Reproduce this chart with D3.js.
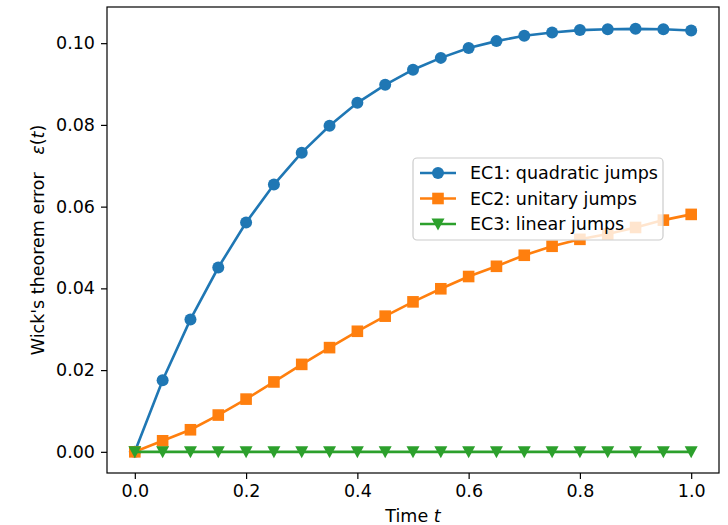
<!DOCTYPE html>
<html><head><meta charset="utf-8">
<script src="https://cdn.jsdelivr.net/npm/d3@7"></script>
<style>body{margin:0;background:#fff;} svg{display:block;}</style>
</head><body>
<script>
const times = [0,0.05,0.1,0.15,0.2,0.25,0.3,0.35,0.4,0.45,0.5,0.55,0.6,0.65,0.7,0.75,0.8,0.85,0.9,0.95,1.0];
const ec1 = [0,0.0175,0.0324,0.0451,0.0561,0.0654,0.0732,0.0798,0.0854,0.0898,0.0935,0.0964,0.0988,0.1005,0.1018,0.1026,0.1032,0.1034,0.1035,0.1034,0.1031];
const ec2 = [0,0.0027,0.0054,0.0090,0.0129,0.0171,0.0214,0.0255,0.0295,0.0332,0.0367,0.0399,0.0429,0.0454,0.0481,0.0503,0.0520,0.0533,0.0549,0.0567,0.0581];
const ec3 = [0,0,0,0,0,0,0,0,0,0,0,0,0,0,0,0,0,0,0,0,0];
const seriesNames = ["EC1: quadratic jumps","EC2: unitary jumps","EC3: linear jumps"];
const xTicks = [0,0.2,0.4,0.6,0.8,1.0];
const yTicks = [0,0.02,0.04,0.06,0.08,0.10];

const W=728,H=525;
const m={l:107,r:9,t:7,b:52};
const font="DejaVu Sans";
const fs=17.5;
const colors=["#1f77b4","#ff7f0e","#2ca02c"];
const shapes=["circle","square","triangle"];
const series=[ec1,ec2,ec3];

const svg=d3.select("body").append("svg").attr("width",W).attr("height",H);
const x=d3.scaleLinear().domain([-0.05,1.05]).range([m.l,W-m.r]);
const y=d3.scaleLinear().domain([-0.00518,0.10885]).range([H-m.b,m.t]);

function marker(g,shape,cx,cy,c){
  if(shape==="circle") g.append("circle").attr("cx",cx).attr("cy",cy).attr("r",6).attr("fill",c);
  else if(shape==="square") g.append("rect").attr("x",cx-5.8).attr("y",cy-5.8).attr("width",11.6).attr("height",11.6).attr("fill",c);
  else g.append("path").attr("d",`M${cx-6.5},${cy-5.5}L${cx+6.5},${cy-5.5}L${cx},${cy+6.5}Z`).attr("fill",c);
}

const plot=svg.append("g");
series.forEach((s,i)=>{
  const line=d3.line().x((d,j)=>x(times[j])).y(d=>y(d));
  plot.append("path").datum(s).attr("d",line).attr("fill","none").attr("stroke",colors[i]).attr("stroke-width",2.6);
  const g=plot.append("g");
  s.forEach((v,j)=>marker(g,shapes[i],x(times[j]),y(v),colors[i]));
});

// axes
const xa=svg.append("g").attr("transform",`translate(0,${H-m.b})`).call(d3.axisBottom(x).tickValues(xTicks).tickFormat(d3.format(".1f")).tickSize(6).tickPadding(6));
const ya=svg.append("g").attr("transform",`translate(${m.l},0)`).call(d3.axisLeft(y).tickValues(yTicks).tickFormat(d3.format(".2f")).tickSize(6).tickPadding(6));
[xa,ya].forEach(a=>{
  a.select(".domain").remove();
  a.selectAll("line").attr("stroke","#000").attr("stroke-width",1.2);
  a.selectAll("text").attr("font-family",font).attr("font-size",fs).attr("fill","#000");
});
// spines
svg.append("rect").attr("x",m.l).attr("y",m.t).attr("width",W-m.r-m.l).attr("height",H-m.b-m.t)
  .attr("fill","none").attr("stroke","#000").attr("stroke-width",1.2);

// labels
const xl=svg.append("text").attr("x",(m.l+W-m.r)/2).attr("y",522).attr("text-anchor","middle")
  .attr("font-family",font).attr("font-size",fs);
xl.append("tspan").text("Time ");
xl.append("tspan").attr("font-style","italic").text("t");

const yl=svg.append("text").attr("transform",`translate(44,${(m.t+H-m.b)/2}) rotate(-90)`).attr("text-anchor","middle")
  .attr("font-family",font).attr("font-size",fs);
yl.append("tspan").text("Wick's theorem error\u2002\u2002");
yl.append("tspan").attr("font-style","italic").text("ε");
yl.append("tspan").text("(");
yl.append("tspan").attr("font-style","italic").text("t");
yl.append("tspan").text(")");

// legend
const lg=svg.append("g");
lg.append("rect").attr("x",413).attr("y",158).attr("width",250).attr("height",82).attr("rx",4)
  .attr("fill","#fff").attr("fill-opacity",0.8).attr("stroke","#ccc").attr("stroke-width",1.2);
seriesNames.forEach((n,i)=>{
  const cy=173+i*25.5;
  lg.append("line").attr("x1",420).attr("x2",456).attr("y1",cy).attr("y2",cy).attr("stroke",colors[i]).attr("stroke-width",2.6);
  marker(lg,shapes[i],438,cy,colors[i]);
  lg.append("text").attr("x",470).attr("y",cy).attr("dy","0.36em").attr("font-family",font).attr("font-size",fs).attr("fill","#000").text(n);
});
</script>
</body></html>
